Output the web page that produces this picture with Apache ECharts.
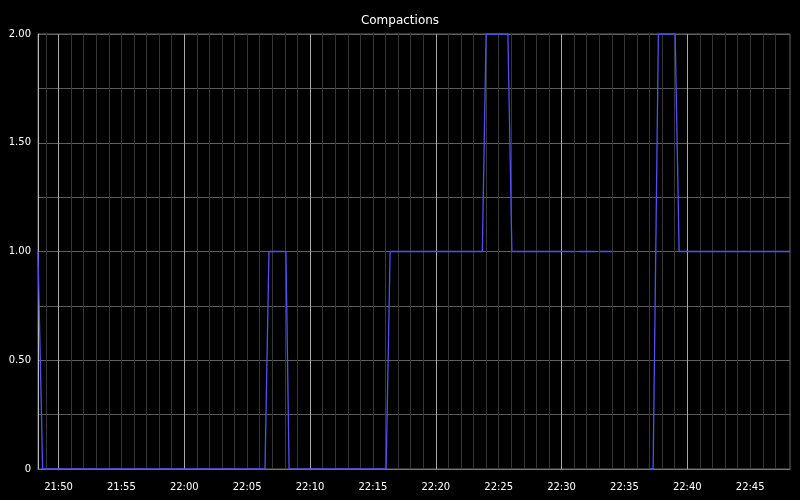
<!DOCTYPE html>
<html>
<head>
<meta charset="utf-8">
<script src="https://cdn.jsdelivr.net/npm/echarts@6/dist/echarts.min.js"></script>
<style>html,body{margin:0;padding:0;background:#000;}#c{width:800px;height:500px;}</style>
</head>
<body>
<div id="c"></div>
<script>
const titleText = 'Compactions';
const times = ['21:48:22','21:48:44','22:06:25','22:06:44','22:08:05','22:08:20','22:16:03','22:16:22','22:23:42','22:24:00','22:25:44','22:26:03','22:31:01','22:31:11','22:31:20','22:32:43','22:32:52','22:33:02','22:34:02','22:35:30','22:36:59','22:37:17','22:37:42','22:39:02','22:39:21','22:48:10'];
const values = [1,0,0,1,1,0,0,1,1,2,2,1,1,null,1,1,null,1,1,null,0,0,2,2,1,1];
const xStart = '21:48:22';
const xEnd = '22:48:10';
const xTickLabels = ['21:50','21:55','22:00','22:05','22:10','22:15','22:20','22:25','22:30','22:35','22:40','22:45'];

function toSec(s){const p=s.split(':').map(Number);return p[0]*3600+p[1]*60+(p[2]||0);}
function fmt(sec){const h=Math.floor(sec/3600),m=Math.floor((sec%3600)/60);return String(h).padStart(2,'0')+':'+String(m).padStart(2,'0');}

const xMin = toSec(xStart), xMax = toSec(xEnd);
const data = times.map((t,i)=>[toSec(t), values[i]]);
const labelSecs = xTickLabels.map(toSec);

const gridLines = [];
for (let s = Math.ceil(xMin/60)*60; s < xMax - 30; s += 60) {
  const major = (s % 600) === 0;
  gridLines.push({xAxis: s, lineStyle:{color: major ? '#a8a8a8' : '#363636', width:1, type:'solid'}});
}

const font = 'DejaVu Sans';
const chart = echarts.init(document.getElementById('c'), null, {renderer:'canvas'});
chart.setOption({
  backgroundColor:'#000',
  animation:false,
  title:{text:titleText,left:'center',top:10,textStyle:{color:'#fff',fontSize:12,fontWeight:'normal',fontFamily:font}},
  grid:{left:38,right:10,top:34,bottom:31,show:true,borderColor:'#666',borderWidth:1,backgroundColor:'transparent'},
  xAxis:{
    type:'value',min:xMin,max:xMax,
    axisLine:{show:true,lineStyle:{color:'#777'}},
    axisTick:{show:false},
    splitLine:{show:false},
    axisLabel:{color:'#fff',fontSize:10,fontFamily:font,margin:13,customValues:labelSecs,formatter:v=>fmt(v)}
  },
  yAxis:{
    type:'value',min:0,max:2,interval:0.5,
    axisLine:{show:true,lineStyle:{color:'#bbb'}},
    axisTick:{show:false},
    axisLabel:{color:'#fff',fontSize:10,fontFamily:font,margin:7,formatter:v=>v===0?'0':v.toFixed(2)},
    splitLine:{show:true,lineStyle:{color:'#606060',width:1}},
    minorTick:{show:false,splitNumber:2},
    minorSplitLine:{show:true,lineStyle:{color:'#5a5a5a',width:1}}
  },
  series:[
    {type:'line',data:[],z:1,silent:true,
     markLine:{silent:true,symbol:'none',label:{show:false},animation:false,emphasis:{disabled:true},data:gridLines}},
    {type:'line',data:data,z:5,showSymbol:false,connectNulls:false,
     lineStyle:{color:'#5050f5',width:1.3},itemStyle:{color:'#5050f5'}}
  ]
});
</script>
</body>
</html>
